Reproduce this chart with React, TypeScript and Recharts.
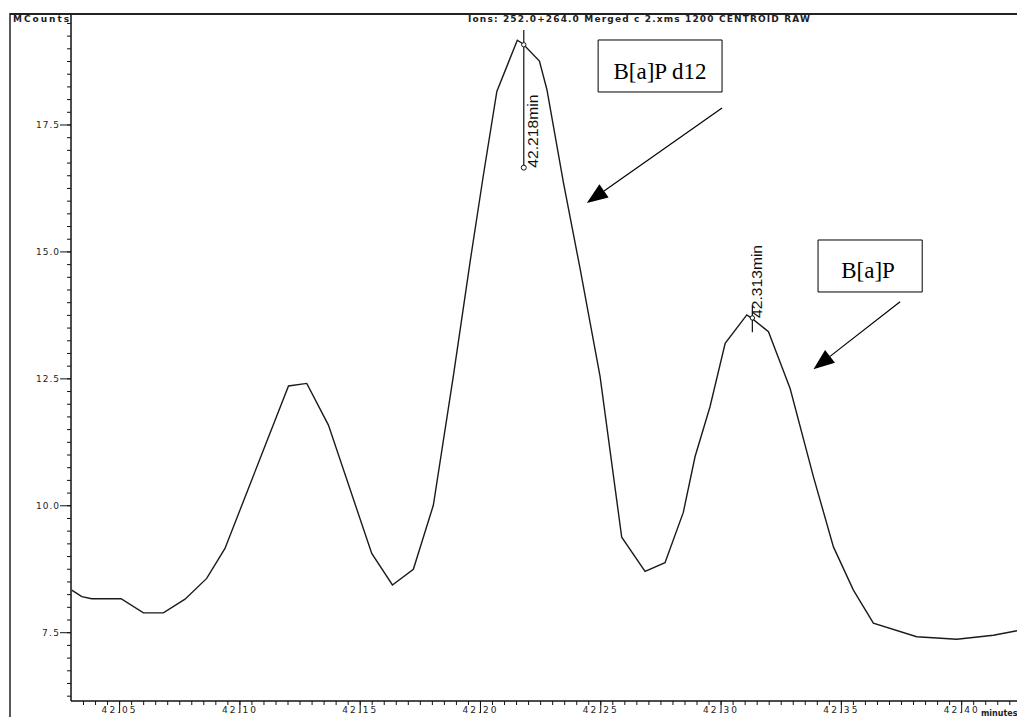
import React from 'react';
import { LineChart, Line, XAxis, YAxis, ReferenceLine, ReferenceDot, ReferenceArea } from 'recharts';

// ---- chromatogram data (minutes, MCounts) ----
const times = [
  42.0301, 42.0343, 42.0384, 42.0506, 42.0599, 42.0682, 42.0772, 42.0862, 42.0938, 42.1202,
  42.1278, 42.1368, 42.1548, 42.1634, 42.1721, 42.1804, 42.1887, 42.1957, 42.2012, 42.2068,
  42.2153, 42.2176, 42.2245, 42.2276, 42.2345, 42.2414, 42.2497, 42.2587, 42.2684, 42.2767,
  42.2843, 42.2892, 42.2954, 42.3017, 42.3107, 42.3128, 42.3197, 42.3287, 42.3384, 42.3467,
  42.355, 42.3633, 42.3813, 42.398, 42.4132, 42.423,
];
const counts = [
  8.34, 8.21, 8.17, 8.17, 7.89, 7.89, 8.16, 8.57, 9.16, 12.36,
  12.41, 11.59, 9.06, 8.44, 8.75, 10.01, 12.55, 14.81, 16.51, 18.16,
  19.17, 19.1, 18.76, 18.2, 16.36, 14.67, 12.55, 9.38, 8.71, 8.88,
  9.87, 10.97, 11.95, 13.2, 13.76, 13.69, 13.43, 12.31, 10.57, 9.19,
  8.34, 7.69, 7.42, 7.37, 7.45, 7.54,
];

// ---- axes ----
const xDomain = [42.0298, 42.423];
const yDomain = [6.155, 19.686];
const xMajorTicks = [42.05, 42.1, 42.15, 42.2, 42.25, 42.3, 42.35, 42.4];
const xTickLabels = ['42.05', '42.10', '42.15', '42.20', '42.25', '42.30', '42.35', '42.40'];
const yMajorTicks = [7.5, 10.0, 12.5, 15.0, 17.5];
const yTickLabels = ['7.5', '10.0', '12.5', '15.0', '17.5'];
const xMinorStep = 0.005;
const yMinorStep = 0.25;

// ---- peak annotations ----
const peakTimes = [42.218, 42.313];
const peakLabels = ['42.218min', '42.313min'];
const peakApex = [19.08, 13.7];
const peakLineTop = [19.37, 13.95];
const peakLineBottom = [16.66, 13.42];
const peakLabelY = [16.66, 13.7];

// ---- compound call-outs ----
const compoundNames = ['B[a]P d12', 'B[a]P'];
const boxX1 = [42.2489, 42.3403];
const boxX2 = [42.3004, 42.3836];
const boxYTop = [19.174, 15.235];
const boxYBottom = [18.15, 14.211];
const boxTextX = [42.2746, 42.3611];
const boxTextY = [18.406, 14.486];
const arrowTailX = [42.3004, 42.3744];
const arrowTailY = [17.835, 14.02];
const arrowHeadX = [42.2442, 42.3384];
const arrowHeadY = [15.964, 12.688];

const titleText = 'Ions: 252.0+264.0 Merged c 2.xms 1200 CENTROID RAW';
const yUnitText = 'MCounts';
const xUnitText = 'minutes';

const data = times.map((t, i) => ({ t, c: counts[i] }));

const xTicks: number[] = [];
for (let i = 0; i <= 80; i++) {
  const v = Math.round((42.035 + i * xMinorStep) * 1000) / 1000;
  if (v <= xDomain[1]) xTicks.push(v);
}
const yTicks: number[] = [];
for (let i = 0; i <= 60; i++) {
  const v = Math.round((6.25 + i * yMinorStep) * 100) / 100;
  if (v <= yDomain[1]) yTicks.push(v);
}

const tickFont = '"DejaVu Sans", sans-serif';
const MINOR = 4;

const XTick = (props: any) => {
  const { x, y, payload } = props;
  const idx = xMajorTicks.findIndex((m) => Math.abs(m - payload.value) < 1e-6);
  if (idx < 0) return <g />;
  const y0 = y - MINOR;
  return (
    <g>
      <line x1={x} y1={y0} x2={x} y2={y0 + 12} stroke="#111" strokeWidth={1} />
      <text x={x - 1} y={y0 + 12} textAnchor="middle" fontSize={9} fontFamily={tickFont} fill="#222"
        textLength={34} lengthAdjust="spacing">
        {xTickLabels[idx]}
      </text>
    </g>
  );
};

const YTick = (props: any) => {
  const { x, y, payload } = props;
  const idx = yMajorTicks.findIndex((m) => Math.abs(m - payload.value) < 1e-6);
  if (idx < 0) return <g />;
  const x0 = x + MINOR;
  const label = yTickLabels[idx];
  return (
    <g>
      <line x1={x0 - 11} y1={y} x2={x0} y2={y} stroke="#111" strokeWidth={1} />
      <text x={x0 - 12} y={y + 3.5} textAnchor="end" fontSize={9} fontFamily={tickFont} fill="#222"
        textLength={label.length > 3 ? 23 : 17} lengthAdjust="spacing">
        {label}
      </text>
    </g>
  );
};

const ArrowShape = (p: any) => {
  const { x1, y1, x2, y2 } = p;
  const dx = x2 - x1;
  const dy = y2 - y1;
  const len = Math.hypot(dx, dy) || 1;
  const ux = dx / len;
  const uy = dy / len;
  const hl = 21;
  const hw = 8;
  const bx = x2 - ux * hl;
  const by = y2 - uy * hl;
  const pts = `${x2},${y2} ${bx - uy * hw},${by + ux * hw} ${bx + uy * hw},${by - ux * hw}`;
  return (
    <g>
      <line x1={x1} y1={y1} x2={bx} y2={by} stroke="#000" strokeWidth={1.2} />
      <polygon points={pts} fill="#000" />
    </g>
  );
};

const makePeakLabel = (text: string, dx: number) => (p: any) => (
  <text transform={`translate(${p.cx + dx},${p.cy}) rotate(-90)`} x={0} y={0} textAnchor="start"
    fontSize={14} fontFamily='"Liberation Sans", Arial, sans-serif' fill="#111" textLength={73}
    lengthAdjust="spacingAndGlyphs">
    {text}
  </text>
);

const makeBoxText = (text: string) => (p: any) => (
  <text x={p.cx} y={p.cy} textAnchor="middle" fontSize={23}
    fontFamily='"Liberation Serif", "Times New Roman", serif' fill="#000">
    {text}
  </text>
);

const peakLabelDx = [14, 10];

export default function App() {
  return (
    <div style={{ position: 'absolute', left: 0, top: 0, width: 1017, height: 717, background: '#fff', overflow: 'hidden' }}>
      <LineChart width={1017} height={717} data={data} margin={{ top: 14, right: 0, bottom: 0, left: 0 }}>
        <XAxis dataKey="t" type="number" domain={xDomain} allowDataOverflow ticks={xTicks} interval={0}
          minTickGap={0} height={16} tickSize={MINOR} tickMargin={0} tick={<XTick />}
          axisLine={{ stroke: '#111', strokeWidth: 1.5 }} tickLine={{ stroke: '#111', strokeWidth: 1 }} />
        <YAxis type="number" domain={yDomain} allowDataOverflow ticks={yTicks} interval={0}
          minTickGap={0} width={71} tickSize={MINOR} tickMargin={0} tick={<YTick />}
          axisLine={{ stroke: '#111', strokeWidth: 1.5 }} tickLine={{ stroke: '#111', strokeWidth: 1 }} />
        {compoundNames.map((name, i) => (
          <ReferenceArea key={'box' + i} x1={boxX1[i]} x2={boxX2[i]} y1={boxYBottom[i]} y2={boxYTop[i]}
            fill="#fff" fillOpacity={1} stroke="#000" strokeWidth={1} />
        ))}
        <Line type="linear" dataKey="c" stroke="#1a1a1a" strokeWidth={1.4} dot={false} isAnimationActive={false} />
        {peakTimes.map((t, i) => (
          <ReferenceLine key={'pl' + i} segment={[{ x: t, y: peakLineTop[i] }, { x: t, y: peakLineBottom[i] }]}
            stroke="#111" strokeWidth={1.2} />
        ))}
        <ReferenceDot x={peakTimes[0]} y={peakLineBottom[0]} r={2.5} fill="#fff" stroke="#111" strokeWidth={1} />
        {peakTimes.map((t, i) => (
          <ReferenceDot key={'pa' + i} x={t} y={peakApex[i]} r={2.2} fill="#fff" stroke="#111" strokeWidth={1} />
        ))}
        {peakTimes.map((t, i) => (
          <ReferenceDot key={'pt' + i} x={t} y={peakLabelY[i]} r={0}
            shape={makePeakLabel(peakLabels[i], peakLabelDx[i])} />
        ))}
        {compoundNames.map((name, i) => (
          <ReferenceDot key={'bt' + i} x={boxTextX[i]} y={boxTextY[i]} r={0} shape={makeBoxText(name)} />
        ))}
        {compoundNames.map((name, i) => (
          <ReferenceLine key={'ar' + i}
            segment={[{ x: arrowTailX[i], y: arrowTailY[i] }, { x: arrowHeadX[i], y: arrowHeadY[i] }]}
            shape={ArrowShape} />
        ))}
      </LineChart>
      <svg width={1017} height={717} style={{ position: 'absolute', left: 0, top: 0, pointerEvents: 'none' }}>
        <line x1={10} y1={14} x2={1017} y2={14} stroke="#222" strokeWidth={2} />
        <line x1={10} y1={13} x2={10} y2={717} stroke="#222" strokeWidth={1.5} />
        <text x={13} y={22} fontSize={9} fontWeight="bold" fontFamily={tickFont} fill="#222" textLength={56}
          lengthAdjust="spacing">{yUnitText}</text>
        <text x={468} y={22} fontSize={9} fontWeight="bold" fontFamily={tickFont} fill="#222" textLength={342}
          lengthAdjust="spacing">{titleText}</text>
        <text x={981} y={716} fontSize={8} fontWeight="bold" fontFamily={tickFont} fill="#222">{xUnitText}</text>
      </svg>
    </div>
  );
}
